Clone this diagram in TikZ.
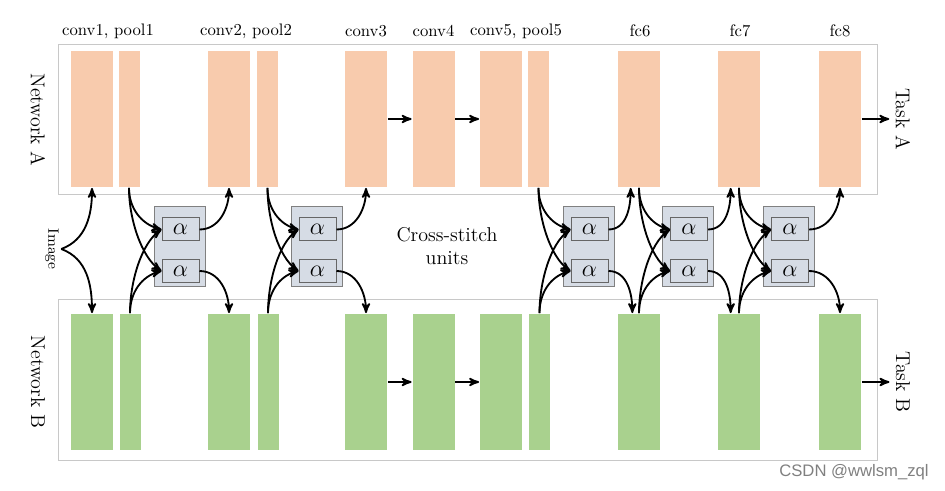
\documentclass[tikz,border=0pt]{standalone}
\usepackage{fontspec}
\newfontfamily\wmfont{Liberation Sans}
\usetikzlibrary{arrows,positioning}
\definecolor{peach}{RGB}{248,203,173}
\definecolor{leaf}{RGB}{169,209,142}
\definecolor{unitfill}{RGB}{214,220,229}
\definecolor{framegray}{RGB}{200,200,200}

\begin{document}
\begin{tikzpicture}[x=0.6pt,y=-0.6pt,->,>=stealth',line width=1.1pt]
  \tikzstyle{layerA}=[fill=peach,minimum width=25.2pt,minimum height=81.6pt,inner sep=0pt]
  \tikzstyle{layerB}=[layerA,fill=leaf]
  \tikzstyle{poolA}=[layerA,minimum width=12.6pt]
  \tikzstyle{poolB}=[layerB,minimum width=12.6pt]
  \tikzstyle{frame}=[draw=framegray,line width=0.6pt,inner sep=0pt]
  \tikzstyle{unit}=[draw=gray,fill=unitfill,line width=0.6pt,minimum width=30.6pt,minimum height=48pt]
  \tikzstyle{alpha}=[draw=gray!80!black,fill=unitfill,line width=0.6pt,minimum width=22.2pt,minimum height=13.8pt,inner sep=0pt,font=\Large]
  \tikzstyle{dnear}=[out=-90,in=165]
  \tikzstyle{dfar}=[out=-90,in=145,out looseness=0.9,in looseness=0.7]
  \tikzstyle{unear}=[out=90,in=195]
  \tikzstyle{ufar}=[out=90,in=215,out looseness=0.9,in looseness=0.7]

  \useasboundingbox (0,0) rectangle (945,491);

  \node[frame,minimum width=491.4pt,minimum height=90pt]   (frameA) at (467.5,120) {};
  \node[frame,minimum width=491.4pt,minimum height=97.2pt] (frameB) at (467.5,380) {};

  % network A
  \node[layerA] (conv1a) at (92,119)  {};
  \node[poolA]  (pool1a) at (129,119) {};
  \node[layerA] (conv2a) at (229,119) {};
  \node[poolA]  (pool2a) at (267.5,119) {};
  \node[layerA] (conv3a) at (366,119) {};
  \node[layerA] (conv4a) at (433.5,119) {};
  \node[layerA] (conv5a) at (501,119) {};
  \node[poolA]  (pool5a) at (538.5,119) {};
  \node[layerA] (fc6a)   at (639,119) {};
  \node[layerA] (fc7a)   at (739,119) {};
  \node[layerA] (fc8a)   at (840,119) {};

  % network B
  \node[layerB] (conv1b) at (92,382)  {};
  \node[poolB]  (pool1b) at (130,382) {};
  \node[layerB] (conv2b) at (229,382) {};
  \node[poolB]  (pool2b) at (268,382) {};
  \node[layerB] (conv3b) at (366,382) {};
  \node[layerB] (conv4b) at (433.5,382) {};
  \node[layerB] (conv5b) at (501,382) {};
  \node[poolB]  (pool5b) at (539.5,382) {};
  \node[layerB] (fc6b)   at (639,382) {};
  \node[layerB] (fc7b)   at (739,382) {};
  \node[layerB] (fc8b)   at (840,382) {};

  % layer names
  \node (lab1) at (108,31) {conv1, pool1};
  \node (lab2) at (246,31) {conv2, pool2};
  \node (lab3) at (366,31) {conv3};
  \node (lab4) at (433.5,31) {conv4};
  \node (lab5) at (516,31) {conv5, pool5};
  \node (lab6) at (640,31) {fc6};
  \node (lab7) at (740,31) {fc7};
  \node (lab8) at (840,31) {fc8};

  \node[rotate=-90,font=\large] (netA)  at (38,120) {Network A};
  \node[rotate=-90,font=\large] (netB)  at (38,382) {Network B};
  \node[rotate=-90,font=\large] (taskA) at (903,119) {Task A};
  \node[rotate=-90,font=\large] (taskB) at (903,382) {Task B};
  \node[rotate=-90,font=\small,inner sep=1pt] (img) at (52,249) {Image};
  \node[align=center,font=\large] (cslabel) at (447,246) {Cross-stitch\\units};

  % cross-stitch units
  \node[unit]  (u1)  at (179.5,247) {};
  \node[alpha] (a1t) at (180.5,229.5) {$\alpha$};
  \node[alpha] (a1b) at (180.5,271) {$\alpha$};
  \node[unit]  (u2)  at (316.5,247) {};
  \node[alpha] (a2t) at (317.5,229.5) {$\alpha$};
  \node[alpha] (a2b) at (317.5,271) {$\alpha$};
  \node[unit]  (u3)  at (588.5,247) {};
  \node[alpha] (a3t) at (589.5,229.5) {$\alpha$};
  \node[alpha] (a3b) at (589.5,271) {$\alpha$};
  \node[unit]  (u4)  at (688,247) {};
  \node[alpha] (a4t) at (689,229.5) {$\alpha$};
  \node[alpha] (a4b) at (689,271) {$\alpha$};
  \node[unit]  (u5)  at (789,247) {};
  \node[alpha] (a5t) at (790,229.5) {$\alpha$};
  \node[alpha] (a5b) at (790,271) {$\alpha$};

  \node[text=gray,font=\wmfont] (wm) at (854,472) {CSDN @wwlsm\_zql};

  \path
  (img.north) edge [out=20,in=-90] (conv1a.south)
              edge [out=-20,in=90] (conv1b.north)
  (conv3a) edge (conv4a)
  (conv4a) edge (conv5a)
  (conv3b) edge (conv4b)
  (conv4b) edge (conv5b)
  (fc8a) edge (taskA.south)
  (fc8b) edge (taskB.south)
  % unit 1
  (pool1a.south) edge [dnear] (a1t.west)
                 edge [dfar] (a1b.west)
  (pool1b.north) edge [ufar] (a1t.west)
                 edge [unear] (a1b.west)
  (a1t.east) edge [out=0,in=-90] (conv2a.south)
  (a1b.east) edge [out=0,in=90] (conv2b.north)
  % unit 2
  (pool2a.south) edge [dnear] (a2t.west)
                 edge [dfar] (a2b.west)
  (pool2b.north) edge [ufar] (a2t.west)
                 edge [unear] (a2b.west)
  (a2t.east) edge [out=0,in=-90] (conv3a.south)
  (a2b.east) edge [out=0,in=90] (conv3b.north)
  % unit 3
  (pool5a.south) edge [dnear] (a3t.west)
                 edge [dfar] (a3b.west)
  (pool5b.north) edge [ufar] (a3t.west)
                 edge [unear] (a3b.west)
  (a3t.east) edge [out=0,in=-90] ([xshift=-5pt]fc6a.south)
  (a3b.east) edge [out=0,in=90] ([xshift=-4pt]fc6b.north)
  % unit 4
  (fc6a.south) edge [dnear] (a4t.west)
               edge [dfar] (a4b.west)
  (fc6b.north) edge [ufar] (a4t.west)
               edge [unear] (a4b.west)
  (a4t.east) edge [out=0,in=-90] ([xshift=-5pt]fc7a.south)
  (a4b.east) edge [out=0,in=90] ([xshift=-5pt]fc7b.north)
  % unit 5
  (fc7a.south) edge [dnear] (a5t.west)
               edge [dfar] (a5b.west)
  (fc7b.north) edge [ufar] (a5t.west)
               edge [unear] (a5b.west)
  (a5t.east) edge [out=0,in=-90] (fc8a.south)
  (a5b.east) edge [out=0,in=90] (fc8b.north);
\end{tikzpicture}
\end{document}
